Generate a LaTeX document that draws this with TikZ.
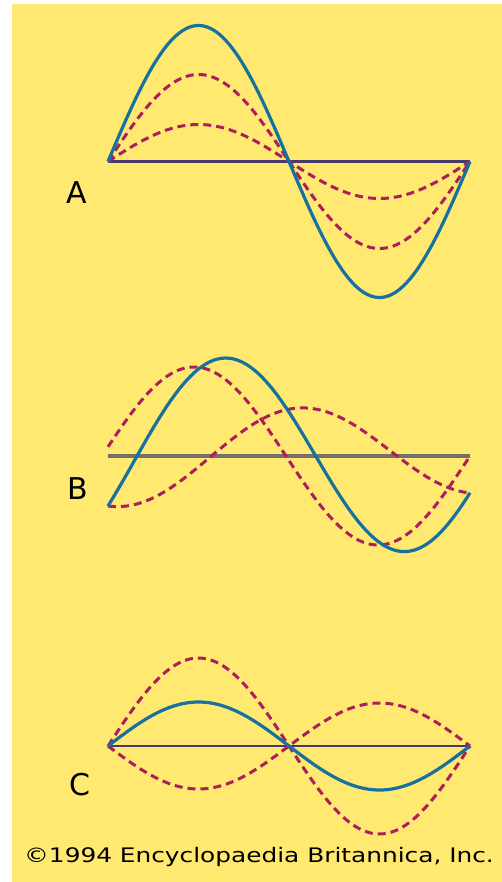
\documentclass[tikz,border=0pt]{standalone}
\usepackage{fontspec}
\setmainfont{DejaVu Sans}
\definecolor{bgyellow}{RGB}{255,233,112}
\definecolor{wblue}{RGB}{22,112,160}
\definecolor{wmag}{RGB}{172,30,92}
\definecolor{axnavy}{RGB}{70,58,110}
\definecolor{axgray}{RGB}{118,110,106}
\tikzset{
  wave/.style={wblue, line width=3.2pt, line join=round},
  dwave/.style={wmag, line width=3pt, dash pattern=on 8pt off 5pt},
  axisline/.style={axnavy, line width=2.2pt},
  axisgray/.style={axgray, line width=3.2pt},
  lab/.style={font=\fontsize{30}{30}\selectfont, inner sep=0pt, anchor=center}
}
\begin{document}
\begin{tikzpicture}[x=1pt,y=-1pt]
\fill[white] (0,0) rectangle (502,882);
\fill[bgyellow] (12,4) rectangle (502,882);
\useasboundingbox (0,0) rectangle (502,882);
% ---------- A ----------
\draw[axisline] (108,161.5) -- (470,161.5);
\draw[dwave] plot[domain=108:470,samples=120] (\x,{161.5-87*sin((\x-108)/362*360)});
\draw[dwave] plot[domain=108:470,samples=120] (\x,{161.5-37*sin((\x-108)/362*360)});
\draw[wave] plot[domain=108:470,samples=150] (\x,{161.5-136*sin((\x-108)/362*360)});
\node[lab] (la) at (77,193) {A};
% ---------- B ----------
\draw[axisgray] (108,456) -- (470,456);
\draw[dwave] plot[domain=108:470,samples=120] (\x,{456-89*sin((\x-102)/368*360)});
\draw[dwave] plot[domain=108:470,samples=120] (\x,{456-(46*sin(\x-210)-5+13.3*((\x-108)/362))});
\draw[wave] plot[domain=108:470,samples=150] (\x,{456-(100*sin((\x-134)/362*360)-6.3+13.1*((\x-108)/362))});
\node[lab] (lb) at (78,489) {B};
% ---------- C ----------
\draw[axisline] (108,746) -- (470,746);
\draw[dwave] plot[domain=108:470,samples=120] (\x,{746-88*sin((\x-108)/362*360)});
\draw[dwave] plot[domain=108:470,samples=120] (\x,{746+43*sin((\x-108)/362*360)});
\draw[wave] plot[domain=108:470,samples=150] (\x,{746-44*sin((\x-108)/362*360)});
\node[lab] (lc) at (80,785) {C};
% ---------- credit ----------
\node[inner sep=0pt, xscale=1.24, font=\fontsize{20}{20}\selectfont] (credit) at (259,857) {©1994 Encyclopaedia Britannica, Inc.};
\end{tikzpicture}
\end{document}
